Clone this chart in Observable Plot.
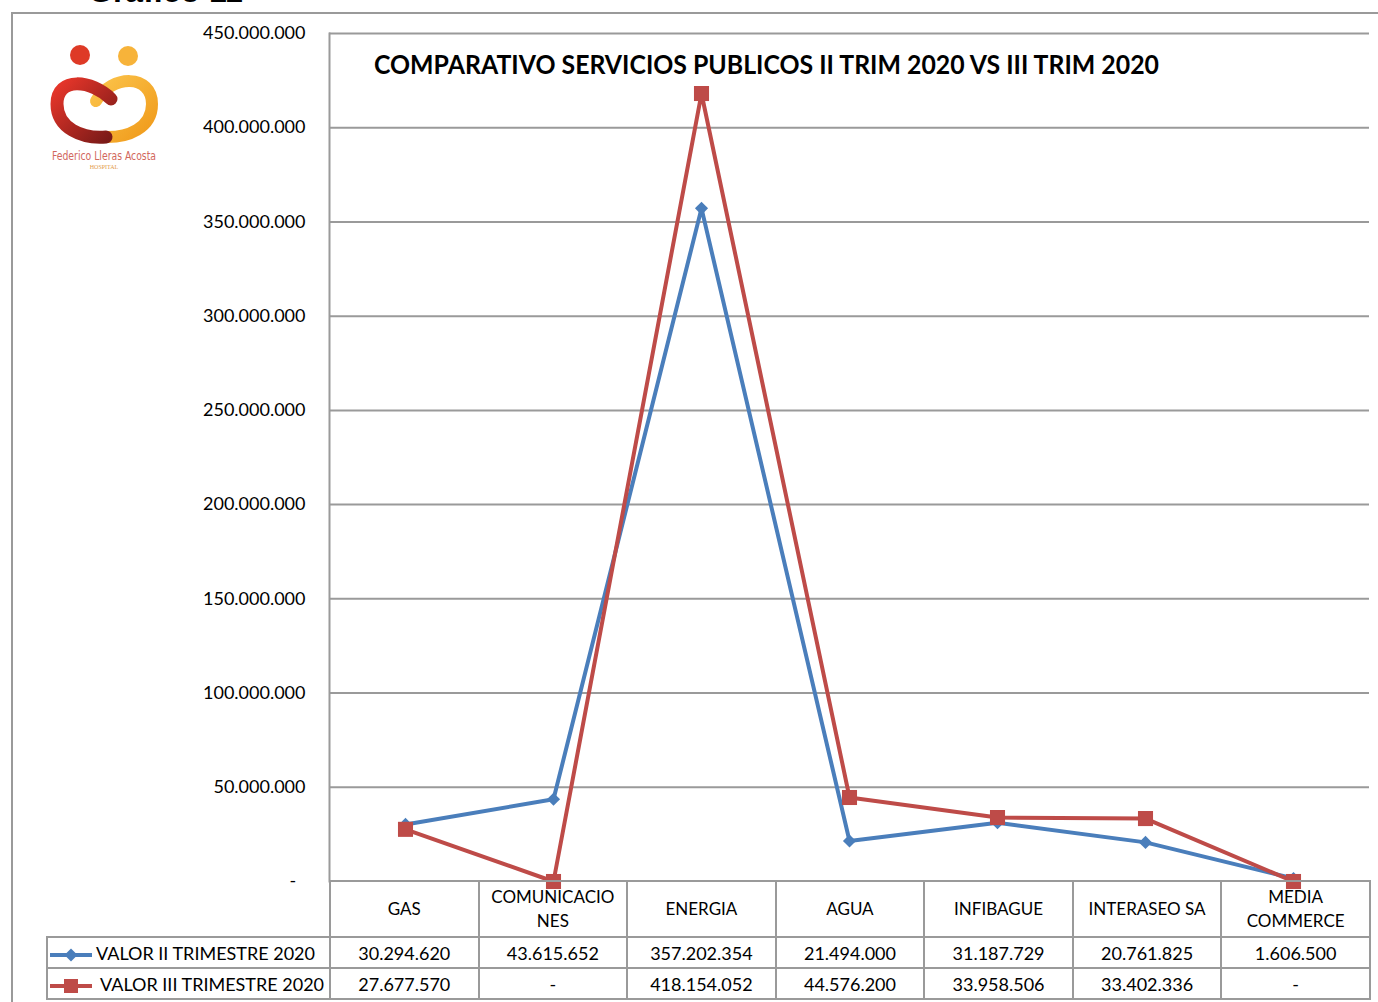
<!DOCTYPE html>
<html>
<head>
<meta charset="utf-8">
<script src="https://cdn.jsdelivr.net/npm/d3@7"></script>
<script src="https://cdn.jsdelivr.net/npm/@observablehq/plot@0.6"></script>
<style>
  html, body { margin: 0; padding: 0; background: #fff; overflow: hidden; }
  #wrap { position: relative; width: 1378px; height: 1002px; overflow: hidden; font-family: Lato, "Open Sans", sans-serif; }
  #outer { position: absolute; left: 11px; top: 12px; width: 1420px; height: 1100px; border: 2px solid #9a9a9a; box-sizing: border-box; }
  #gtitle { position: absolute; left: 88px; top: -27px; font: bold 32px "Liberation Sans", Arial, sans-serif; color: #000; }
  #chart { position: absolute; left: 0; top: 0; }
  #title { position: absolute; left: 374px; top: 48px; font: 700 26px Lato, sans-serif; color: #000; white-space: nowrap; transform-origin: 0 0; }
  #tbl { position: absolute; left: 46px; top: 880px; border-collapse: collapse; table-layout: fixed; width: 1323px; font: 18px Lato, sans-serif; color: #000; }
  #tbl td { border: 2px solid #9a9a9a; text-align: center; padding: 0; white-space: pre-line; line-height: 24px; }
  #tbl tr.hdr td { height: 54px; font-size: 17px; }
  #tbl tr.hdr td.blank { border: none; border-right: 2px solid #9a9a9a; }
  #tbl tr.row td { height: 29px; }
  #tbl td.leg { text-align: left; white-space: nowrap; }
  #tbl td.leg svg { vertical-align: middle; margin-right: 2px; }
  #logo { position: absolute; left: 40px; top: 40px; overflow: visible; }
</style>
</head>
<body>
<div id="wrap">
  <div id="gtitle">Gráfico 11</div>
  <div id="outer"></div>
  <div id="chart"></div>
  <div id="title">COMPARATIVO SERVICIOS PUBLICOS II TRIM 2020 VS III TRIM 2020</div>
  <svg id="logo" width="130" height="135" viewBox="40 40 130 135">
    <defs>
      <linearGradient id="gr" x1="0" y1="0" x2="1" y2="1">
        <stop offset="0" stop-color="#e8362a"/><stop offset="1" stop-color="#7a1a18"/>
      </linearGradient>
      <linearGradient id="go" x1="0" y1="0" x2="1" y2="1">
        <stop offset="0" stop-color="#fbc34a"/><stop offset="1" stop-color="#f09a1a"/>
      </linearGradient>
    </defs>
    <circle cx="80" cy="55" r="10" fill="#de3a26"/>
    <circle cx="128" cy="56" r="10" fill="#f7b33a"/>
    <path d="M96 101 C 112 74, 152 74, 152 104 C 152 128, 128 138, 104 137" fill="none" stroke="url(#go)" stroke-width="12" stroke-linecap="round"/>
    <path d="M111 99 C 92 80, 57 76, 57 104 C 57 128, 82 139, 106 137" fill="none" stroke="url(#gr)" stroke-width="13" stroke-linecap="round"/>
    <text x="104" y="160" text-anchor="middle" font-family="'DejaVu Sans Condensed', 'Liberation Sans Narrow', sans-serif" font-size="12" fill="#d2675d" textLength="104" lengthAdjust="spacingAndGlyphs">Federico Lleras Acosta</text>
    <text x="104" y="169" text-anchor="middle" font-family="'Liberation Serif', serif" font-size="6" fill="#e39b4a">HOSPITAL</text>
  </svg>
  <table id="tbl"></table>
</div>
<script>
const categories = ["GAS", "COMUNICACIONES", "ENERGIA", "AGUA", "INFIBAGUE", "INTERASEO SA", "MEDIA COMMERCE"];
const headerLabels = ["GAS", "COMUNICACIO\nNES", "ENERGIA", "AGUA", "INFIBAGUE", "INTERASEO SA", "MEDIA\nCOMMERCE"];
const seriesNames = ["VALOR II TRIMESTRE 2020", "VALOR III TRIMESTRE 2020"];
const valuesII = [30294620, 43615652, 357202354, 21494000, 31187729, 20761825, 1606500];
const valuesIII = [27677570, 0, 418154052, 44576200, 33958506, 33402336, 0];
const yTicks = [0, 50000000, 100000000, 150000000, 200000000, 250000000, 300000000, 350000000, 400000000, 450000000];
const colors = ["#4a7ebb", "#be4b48"];

const loc = d3.formatLocale({decimal: ",", thousands: ".", grouping: [3], currency: ["$", ""]});
const fmtNum = loc.format(",.0f");
const fmt = v => v === 0 ? "-" : fmtNum(v);
const fmtAxis = v => v === 0 ? "-\u00a0\u00a0" : fmtNum(v);

const dataII = categories.map((c, i) => ({cat: c, value: valuesII[i]}));
const dataIII = categories.map((c, i) => ({cat: c, value: valuesIII[i]}));

const chart = Plot.plot({
  width: 1378,
  height: 1002,
  marginLeft: 329,
  marginRight: 9,
  marginTop: 33,
  marginBottom: 121,
  style: {fontFamily: "Lato, sans-serif", fontSize: "18px", color: "#000", background: "transparent"},
  x: {type: "point", domain: categories, padding: 0.5, axis: null},
  y: {domain: [0, 450000000]},
  marks: [
    Plot.ruleY(yTicks.filter(d => d > 0), {stroke: "#9a9a9a", strokeWidth: 2, strokeOpacity: 1}),
    Plot.frame({anchor: "left", stroke: "#9a9a9a", strokeWidth: 2, strokeOpacity: 1}),
    Plot.axisY({ticks: yTicks, tickFormat: fmtAxis, tickSize: 0, tickPadding: 24, label: null, fontSize: 18}),
    Plot.line(dataII, {x: "cat", y: "value", stroke: colors[0], strokeWidth: 4}),
    Plot.dot(dataII, {x: "cat", y: "value", symbol: "diamond2", r: 5.9, fill: colors[0], stroke: null}),
    Plot.line(dataIII, {x: "cat", y: "value", stroke: colors[1], strokeWidth: 4}),
    Plot.dot(dataIII, {x: "cat", y: "value", symbol: "square", r: 8.5, fill: colors[1], stroke: null})
  ]
});
document.getElementById("chart").appendChild(chart);

// Data table below the chart
const tbl = document.getElementById("tbl");
const colg = document.createElement("colgroup");
colg.innerHTML = `<col style="width:283px">` + categories.map(() => `<col style="width:148.57px">`).join("");
tbl.appendChild(colg);
const hdr = document.createElement("tr");
hdr.className = "hdr";
hdr.innerHTML = `<td class="blank"></td>` + headerLabels.map(l => `<td>${l}</td>`).join("");
tbl.appendChild(hdr);
const keyII = `<svg width="46" height="14"><line x1="2" y1="7" x2="44" y2="7" stroke="${colors[0]}" stroke-width="4"/><path d="M23 0.5 L29.5 7 L23 13.5 L16.5 7 Z" fill="${colors[0]}"/></svg>`;
const keyIII = `<svg width="50" height="16"><line x1="2" y1="8" x2="44" y2="8" stroke="${colors[1]}" stroke-width="4"/><rect x="16" y="1" width="14" height="14" fill="${colors[1]}"/></svg>`;
[[seriesNames[0], valuesII, keyII], [seriesNames[1], valuesIII, keyIII]].forEach(([name, vals, key]) => {
  const tr = document.createElement("tr");
  tr.className = "row";
  tr.innerHTML = `<td class="leg">${key}${name}</td>` + vals.map(v => `<td>${fmt(v)}</td>`).join("");
  tbl.appendChild(tr);
});

// Fit the title to the reference width
const t = document.getElementById("title");
const w = t.getBoundingClientRect().width;
t.style.transform = `scaleX(${785 / w})`;
</script>
</body>
</html>
